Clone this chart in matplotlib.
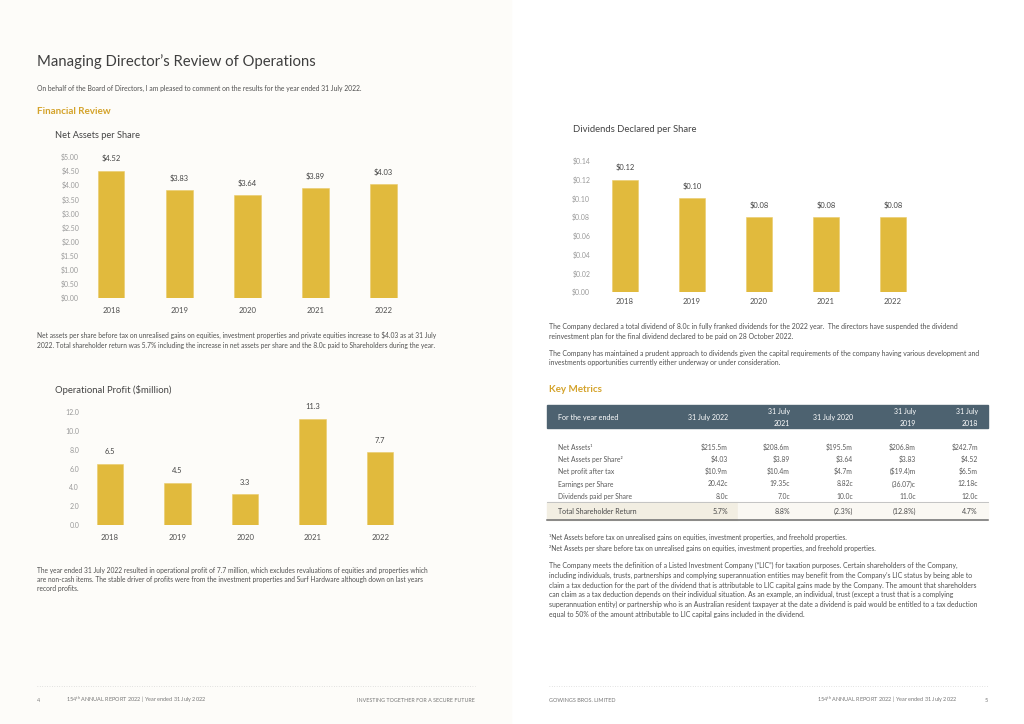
import matplotlib
matplotlib.use("Agg")
import matplotlib.pyplot as plt
from matplotlib.patches import Rectangle

plt.rcParams['font.family'] = ['Lato', 'DejaVu Sans']
plt.rcParams['mathtext.fontset'] = 'custom'
plt.rcParams['mathtext.rm'] = 'Lato'
plt.rcParams['mathtext.it'] = 'Lato'

# ---------------- data ----------------
years = ['2018', '2019', '2020', '2021', '2022']
net_assets_per_share = [4.52, 3.83, 3.64, 3.89, 4.03]
operational_profit = [6.5, 4.5, 3.3, 11.3, 7.7]
dividends_per_share = [0.12, 0.10, 0.08, 0.08, 0.08]

nav_ticks = [0, 0.5, 1.0, 1.5, 2.0, 2.5, 3.0, 3.5, 4.0, 4.5, 5.0]
profit_ticks = [0, 2, 4, 6, 8, 10, 12]
div_ticks = [0, 0.02, 0.04, 0.06, 0.08, 0.10, 0.12, 0.14]

table_headers = ['For the year ended', '31 July 2022', '31 July\n2021', '31 July 2020',
                 '31 July\n2019', '31 July\n2018']
table_labels = ['Net Assets\u00b9', 'Net Assets per Share\u00b2', 'Net profit after tax',
                'Earnings per Share', 'Dividends paid per Share']
table_values = [
    ['$215.5m', '$208.6m', '$195.5m', '$206.8m', '$242.7m'],
    ['$4.03', '$3.89', '$3.64', '$3.83', '$4.52'],
    ['$10.9m', '$10.4m', '$4.7m', '($19.4)m', '$6.5m'],
    ['20.42c', '19.35c', '8.82c', '(36.07)c', '12.18c'],
    ['8.0c', '7.0c', '10.0c', '11.0c', '12.0c'],
]
tsr_label = 'Total Shareholder Return'
tsr_values = ['5.7%', '8.8%', '(2.3%)', '(12.8%)', '4.7%']

# ---------------- styling ----------------
W, H = 1024, 724
BAR = '#E1BA3D'
GOLD = '#D4A32B'
TXT = '#505050'
TICK = '#9a9a9a'
HEAD = '#4D6270'
BODY_L = 4.82
BODY_R = 4.93

fig = plt.figure(figsize=(W / 100, H / 100), dpi=100)
fig.patch.set_facecolor('white')

# page canvas in pixel coords
pg = fig.add_axes([0, 0, 1, 1])
pg.set_xlim(0, W)
pg.set_ylim(H, 0)
pg.axis('off')
pg.add_patch(Rectangle((0, 0), 511, H, color='#FDFCF9', zorder=0))


def t(x, y, s, size=4.7, color=TXT, ha='left', va='center', math=False, **kw):
    return pg.text(x, y, s, fontsize=size, color=color, ha=ha, va=va,
                   parse_math=math, **kw)


def place(l, r, top, bot):
    return fig.add_axes([l / W, 1 - bot / H, (r - l) / W, (bot - top) / H])


def bar_chart(ax, vals, ticks, fmt, lblfmt, xlo, xhi, xpad):
    x = list(range(len(years)))
    bars = ax.bar(x, vals, width=0.39, color=BAR, edgecolor='#EACB6A', linewidth=0.4)
    ax.set_xlim(xlo, xhi)
    ax.set_ylim(ticks[0], ticks[-1])
    ax.set_yticks(ticks)
    ax.set_yticklabels([fmt(v) for v in ticks])
    ax.set_xticks(x)
    ax.set_xticklabels(years)
    ax.tick_params(axis='y', length=0, labelsize=5.0, labelcolor=TICK, pad=3.5)
    ax.tick_params(axis='x', length=0, labelsize=5.6, labelcolor=TXT, pad=xpad)
    for s in ax.spines.values():
        s.set_visible(False)
    ax.patch.set_alpha(0)
    for b, v in zip(bars, vals):
        ax.annotate(lblfmt(v), (b.get_x() + b.get_width() / 2, v), xytext=(0, 6),
                    textcoords='offset points', ha='center', va='bottom',
                    fontsize=5.4, color='#444444')


# ---------------- left page ----------------
t(37, 62, 'Managing Director\u2019s Review of Operations', size=10.7, color='#3f3f3f')
t(37, 88, 'On behalf of the Board of Directors, I am pleased to comment on the results for the year ended 31 July 2022.', size=4.9)
t(37, 111, 'Financial Review', size=7.1, color=GOLD, weight='bold')
t(55, 135, 'Net Assets per Share', size=6.7, color='#444444')

ax1 = place(84, 416, 157, 298)
bar_chart(ax1, net_assets_per_share, nav_ticks, lambda v: f'${v:.2f}',
          lambda v: f'${v:.2f}', -0.4, 4.48, 6.5)

t(37, 335, 'Net assets per share before tax on unrealised gains on equities, investment properties and private equities increase to $4.03 as at 31 July', size=BODY_L)
t(37, 345.5, '2022. Total shareholder return was 5.7% including the increase in net assets per share and the 8.0c paid to Shareholders during the year.', size=BODY_L)

t(55, 390, 'Operational Profit ($million)', size=6.8, color='#444444')
ax2 = place(84, 416, 412, 525)
bar_chart(ax2, operational_profit, profit_ticks, lambda v: f'{v:.1f}',
          lambda v: f'{v:.1f}', -0.385, 4.53, 6.5)

t(37, 570, 'The year ended 31 July 2022 resulted in operational profit of 7.7 million, which excludes revaluations of equities and properties which', size=BODY_L)
t(37, 579.5, 'are non-cash items. The stable driver of profits were from the investment properties and Surf Hardware although down on last years', size=BODY_L)
t(37, 589, 'record profits.', size=BODY_L)

# footer left
pg.plot([37, 475], [686, 686], ls=(0, (1, 2.5)), color='#c8c8c8', lw=0.5)
t(37, 700, '4', size=4.0, color='#777777')
t(66, 700, r'154$^{\mathrm{th}}$ ANNUAL REPORT 2022 | Year ended 31 July 2022', size=3.95,
  color='#777777', math=True)
t(475, 700, 'INVESTING TOGETHER FOR A SECURE FUTURE', size=3.9, color='#777777', ha='right')

# ---------------- right page ----------------
t(573, 129, 'Dividends Declared per Share', size=6.8, color='#444444')
ax3 = place(595, 960, 161, 292)
bar_chart(ax3, dividends_per_share, div_ticks, lambda v: f'${v:.2f}',
          lambda v: f'${v:.2f}', -0.448, 5.0, 4.5)

t(549, 326.5, 'The Company declared a total dividend of 8.0c in fully franked dividends for the 2022 year.  The directors have suspended the dividend', size=BODY_R)
t(549, 336.5, 'reinvestment plan for the final dividend declared to be paid on 28 October 2022.', size=BODY_R)
t(549, 353.5, 'The Company has maintained a prudent approach to dividends given the capital requirements of the company having various development and', size=BODY_R)
t(549, 363, 'investments opportunities currently either underway or under consideration.', size=BODY_R)
t(549, 389, 'Key Metrics', size=7.1, color=GOLD, weight='bold')

# table
pg.add_patch(Rectangle((547, 405), 441, 23, color=HEAD, zorder=1))
col_r = [728, 790, 853, 916, 978]
t(558, 417.5, table_headers[0], size=5.2, color='white', zorder=2)
for xr, h in zip(col_r, table_headers[1:]):
    if '\n' in h:
        a, b = h.split('\n')
        t(xr, 411.5, a, size=5.0, color='white', ha='right', zorder=2)
        t(xr, 423, b, size=5.0, color='white', ha='right', zorder=2)
    else:
        t(xr, 417.5, h, size=5.0, color='white', ha='right', zorder=2)

row_y = [447.5, 459.5, 471.5, 484, 496.5]
for y, lab, vals in zip(row_y, table_labels, table_values):
    t(558, y, lab, size=4.9, color='#5a5a5a')
    for xr, v in zip(col_r, vals):
        t(xr, y, v, size=4.9, color='#5a5a5a', ha='right')

pg.add_patch(Rectangle((547, 502), 191, 18, color='#F2EEE2', zorder=1))
pg.add_patch(Rectangle((738, 502), 250, 18, color='#FAF8F3', zorder=1))
pg.plot([547, 988], [502, 502], color='#c4c4c4', lw=0.7, zorder=2)
pg.plot([547, 988], [520, 520], color='#6e6e6e', lw=1.1, zorder=2)
t(558, 511, tsr_label, size=5.15, color='#4a4a4a', zorder=3)
for xr, v in zip(col_r, tsr_values):
    t(xr, 511, v, size=5.15, color='#4a4a4a', ha='right', zorder=3)

t(549, 537.5, '\u00b9Net Assets before tax on unrealised gains on equities, investment properties, and freehold properties.', size=4.75)
t(549, 548, '\u00b2Net Assets per share before tax on unrealised gains on equities, investment properties, and freehold properties.', size=4.75)

lic = [
    'The Company meets the definition of a Listed Investment Company (\u201cLIC\u201d) for taxation purposes. Certain shareholders of the Company,',
    'including individuals, trusts, partnerships and complying superannuation entities may benefit from the Company\u2019s LIC status by being able to',
    'claim a tax deduction for the part of the dividend that is attributable to LIC capital gains made by the Company. The amount that shareholders',
    'can claim as a tax deduction depends on their individual situation. As an example, an individual, trust (except a trust that is a complying',
    'superannuation entity) or partnership who is an Australian resident taxpayer at the date a dividend is paid would be entitled to a tax deduction',
    'equal to 50% of the amount attributable to LIC capital gains included in the dividend.',
]
for i, line in enumerate(lic):
    t(549, 565.5 + i * 9.8, line, size=BODY_R)

# footer right
pg.plot([549, 988], [686, 686], ls=(0, (1, 2.5)), color='#c8c8c8', lw=0.5)
t(549, 700, 'GOWINGS BROS. LIMITED', size=3.95, color='#777777')
t(957, 700, r'154$^{\mathrm{th}}$ ANNUAL REPORT 2022 | Year ended 31 July 2022', size=3.95,
  color='#777777', ha='right', math=True)
t(988, 700, '5', size=4.0, color='#777777', ha='right')

fig.savefig('out.png', dpi=100, facecolor=fig.get_facecolor())
